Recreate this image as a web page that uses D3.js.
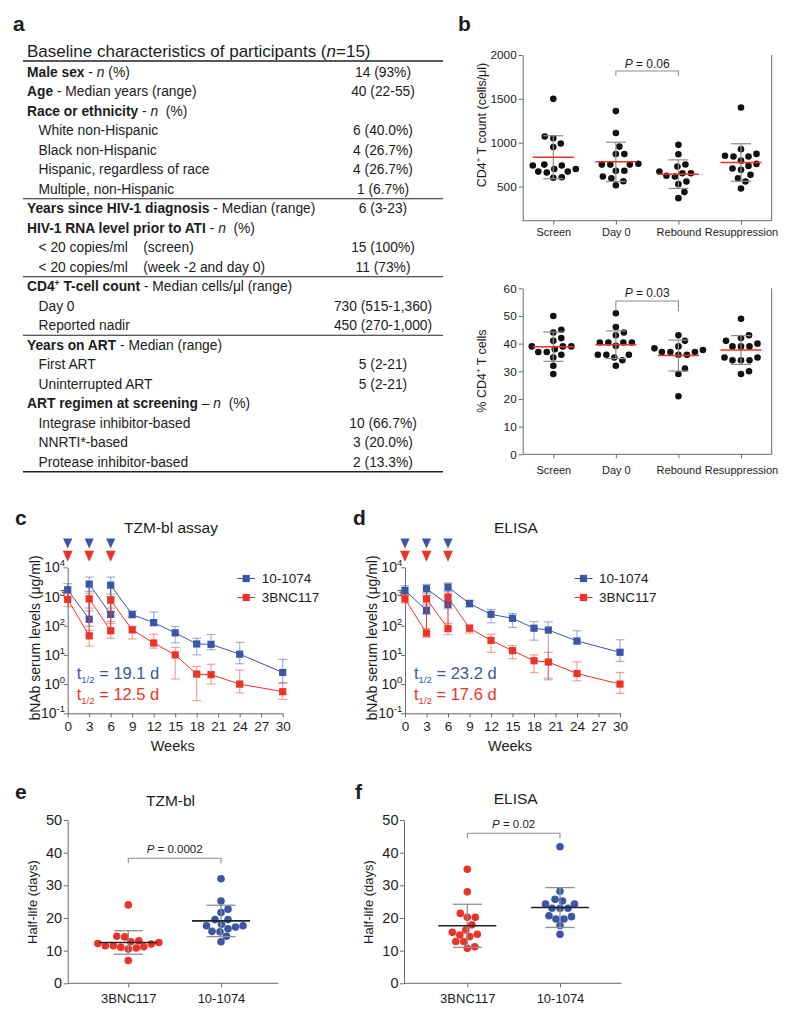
<!DOCTYPE html>
<html>
<head>
<meta charset="utf-8">
<script src="https://cdn.jsdelivr.net/npm/d3@7/dist/d3.min.js"></script>
<style>
html,body{margin:0;padding:0;background:#fff;}
svg text{font-family:"Liberation Sans",Arial,Helvetica,sans-serif;}
</style>
</head>
<body>
<svg id="fig" width="800" height="1016"></svg>
<script>
// ================= DATA =================
// --- panel a: table ---
const tableTitle = [["Baseline characteristics of participants ("],["n","i"],["=15)"]];
const tableRows = [
  {parts:[["Male sex","b"],[" - "],["n","i"],[" (%)"]], value:"14 (93%)"},
  {parts:[["Age","b"],[" - Median years (range)"]], value:"40 (22-55)"},
  {parts:[["Race or ethnicity","b"],[" - "],["n","i"],["  (%)"]], value:""},
  {indent:true, parts:[["White non-Hispanic"]], value:"6 (40.0%)"},
  {indent:true, parts:[["Black non-Hispanic"]], value:"4 (26.7%)"},
  {indent:true, parts:[["Hispanic, regardless of race"]], value:"4 (26.7%)"},
  {indent:true, parts:[["Multiple, non-Hispanic"]], value:"1 (6.7%)"},
  {parts:[["Years since HIV-1 diagnosis","b"],[" - Median (range)"]], value:"6 (3-23)"},
  {parts:[["HIV-1 RNA level prior to ATI","b"],[" - "],["n","i"],["  (%)"]], value:""},
  {indent:true, parts:[["< 20 copies/ml    (screen)"]], value:"15 (100%)"},
  {indent:true, parts:[["< 20 copies/ml    (week -2 and day 0)"]], value:"11 (73%)"},
  {parts:[["CD4","b"],["+","b^"],[" T-cell count","b"],[" - Median cells/μl (range)"]], value:""},
  {indent:true, parts:[["Day 0"]], value:"730 (515-1,360)"},
  {indent:true, parts:[["Reported nadir"]], value:"450 (270-1,000)"},
  {parts:[["Years on ART","b"],[" - Median (range)"]], value:""},
  {indent:true, parts:[["First ART"]], value:"5 (2-21)"},
  {indent:true, parts:[["Uninterrupted ART"]], value:"5 (2-21)"},
  {parts:[["ART regimen at screening","b"],[" – "],["n","i"],["  (%)"]], value:""},
  {indent:true, parts:[["Integrase inhibitor-based"]], value:"10 (66.7%)"},
  {indent:true, parts:[["NNRTI*-based"]], value:"3 (20.0%)"},
  {indent:true, parts:[["Protease inhibitor-based"]], value:"2 (13.3%)"}
];
const tableRuleAfter = [6, 10, 13, 20];

// --- panel b ---
const cd4Groups = ["Screen","Day 0","Rebound","Resuppression"];
const cd4Count = [
  [1500,1050,1070,990,950,740,740,750,700,700,670,670,660,600,605],
  [1360,1110,955,870,870,760,750,750,750,680,680,595,615,560,515],
  [975,868,728,751,652,652,671,614,622,557,527,436,367],
  [1400,925,872,842,842,850,758,705,735,795,633,690,595,557,477]
];
const cd4CountMean = [834,781,641,774];
const cd4CountSD   = [245,224,163,214];
const cd4CountTicks = [500,1000,1500,2000];
const cd4Pct = [
  [50,45,44,42,41,39,39,39,38,37,37,36,35,32,29],
  [51,46,44,43,40.4,40.4,40.4,40.4,39.2,36,36,36,35,34,32],
  [43,41,39,38.3,37.7,37,37,37,36,36,31,29,21],
  [49,43,42,41,40,39,39,39,35,35,34,34,34,30,29]
];
const cd4PctMean = [38.9,39.6,35.7,37.7];
const cd4PctSD   = [5.3,5.0,5.6,5.2];
const cd4PctTicks = [0,10,20,30,40,50,60];

// --- panels c, d ---
const pkWeeks = [0,3,3,6,6,9,12,15,18,20,24,30];
const infusionWeeks = [0,3,6];
const pkTicksY = [0.1,1,10,100,1000,10000];
const pkTicksX = [0,3,6,9,12,15,18,21,24,27,30];
const tzm1074   = [1700,166,2660,245,2450,240,128,57,23.7,23,10.6,2.5];
const tzm1074Hi = [2750,320,4600,400,4600,320,295,94,37,50,27,7];
const tzm1074Lo = [900,95,1500,140,1000,190,100,26,10,15,5,1.1];
const tzm117    = [800,45,830,67,750,72,25.6,10,2.2,2.1,1.0,0.55];
const tzm117Hi  = [1300,70,1300,120,1200,95,51,18,4,4.8,3,1.1];
const tzm117Lo  = [450,20,400,37,300,35,17,1.5,0.27,1,0.5,0.3];
const eli1074   = [1620,334,1850,536,2100,575,245,179,82,71,30,12.3];
const eli1074Hi = [2330,480,2600,700,2900,745,362,263,138,135,67,33];
const eli1074Lo = [1150,245,1300,380,1500,435,126,87,32,1.4,23,6];
const eli117    = [830,56,830,80,940,82,31.5,14,6.3,5.7,2.3,1.0];
const eli117Hi  = [1150,80,1100,120,1300,104,51,21,10,12.3,5.8,2.5];
const eli117Lo  = [600,40,550,49,500,56,12.3,7.4,2.5,1.6,1.3,0.48];
const seriesNames = ["10-1074","3BNC117"];

// --- panels e, f ---
const hlGroups = ["3BNC117","10-1074"];
const hlTicks = [0,10,20,30,40,50];
const tzmHalfLife = [
  [24,14.2,14.4,12.7,12.5,12.2,11.5,11,10.5,10.8,11.2,11.5,12,13,7],
  [32,25.2,22.7,21.7,19.5,18.1,17.6,19.5,17.6,17.2,16.7,15.8,15.9,14.4,12.7]
];
const tzmHalfLifeMean = [12.5,19.1];
const tzmHalfLifeSD   = [3.6,4.8];
const eliHalfLife = [
  [34.9,28,21.4,20.2,20.2,17.9,15.6,16.3,14.8,14.3,15,12.8,12.8,10.7,11.2],
  [41.8,28.2,25.7,24.3,23,23,23,24.3,25.2,20.7,19.7,19.7,20.4,17.7,15]
];
const eliHalfLifeMean = [17.6,23.2];
const eliHalfLifeSD   = [6.6,6.1];

// ================= DRAWING =================
const svg = d3.select("#fig");
const INK = "#1c1c1c", AXC = "#6a6a6a", GREY = "#8e8e8e";
const BLUE = "#3b56a6", RED = "#ec3327";

function rich(sel, parts){
  let back = 0;
  parts.forEach(p=>{
    const txt = p[0], st = p[1] || "";
    const s = sel.append("tspan").text(txt);
    if (st.includes("b")) s.attr("font-weight","bold");
    if (st.includes("i")) s.attr("font-style","italic");
    if (st.includes("^")) { s.attr("dy",-5).attr("font-size","0.62em"); back = 5; }
    else if (st.includes("_")) { s.attr("dy",4).attr("font-size","0.58em"); back = -4; }
    else if (back) { s.attr("dy", back); back = 0; }
  });
}
function styleAxis(g, fs){
  g.attr("font-size", fs).attr("font-family", null);
  g.selectAll("path,line").attr("stroke", AXC).attr("stroke-width",1);
  g.selectAll("text").attr("fill", INK);
}
function swarm(vals, y, minD){
  const idx = vals.map((v,i)=>i).sort((a,b)=>vals[a]-vals[b]);
  const placed = [], off = new Array(vals.length);
  idx.forEach(i=>{
    const py = y(vals[i]);
    let best = 0;
    for (let k=0;k<600;k++){
      const c = (k%2===1?1:-1)*Math.ceil(k/2)*0.5;
      if (placed.every(p=>Math.hypot(p.x-c,p.y-py) >= minD)) { best = c; break; }
    }
    placed.push({x:best,y:py}); off[i] = best;
  });
  return off;
}
function rotLabel(x, y, fs, parts){
  const t = svg.append("text").attr("transform",`translate(${x},${y}) rotate(-90)`)
    .attr("text-anchor","middle").attr("dy","0.35em").attr("font-size",fs).attr("fill",INK);
  rich(t, parts);
}
function panelLabel(t,x,y){
  svg.append("text").attr("x",x).attr("y",y).attr("font-size",21).attr("font-weight","bold").attr("fill",INK).text(t);
}
panelLabel("a",13,31); panelLabel("b",458,31);
panelLabel("c",15,525); panelLabel("d",353,525);
panelLabel("e",15,799); panelLabel("f",355,799);

// ---------- panel a ----------
(function(){
  const X0=23, X1=443, XL=27, XI=38.5, XV=383, Y0=76.7, DY=19.5, FS=13.8;
  const tt = svg.append("text").attr("x",XL).attr("y",57).attr("font-size",17).attr("fill",INK);
  rich(tt, tableTitle);
  svg.append("line").attr("x1",X0).attr("x2",X1).attr("y1",61).attr("y2",61).attr("stroke","#222").attr("stroke-width",1.4);
  tableRows.forEach((r,i)=>{
    const y = Y0 + i*DY;
    const t = svg.append("text").attr("x", r.indent?XI:XL).attr("y",y).attr("font-size",FS)
      .attr("fill",INK).style("white-space","pre");
    rich(t, r.parts);
    if (r.value) svg.append("text").attr("x",XV).attr("y",y).attr("text-anchor","middle")
      .attr("font-size",FS).attr("fill",INK).text(r.value);
  });
  tableRuleAfter.forEach((i,k)=>{
    const y = Y0 + i*DY + 5;
    svg.append("line").attr("x1",X0).attr("x2",X1).attr("y1",y).attr("y2",y)
      .attr("stroke","#222").attr("stroke-width", k===tableRuleAfter.length-1?1.4:1.1);
  });
})();

// ---------- panel b ----------
const xB = d3.scalePoint().domain(cd4Groups).range([553.3,741]);
function cd4Chart(vals, means, sds, y, ticks, yLab, labY, p){
  const [yB, yT] = y.range();
  const gy = svg.append("g").attr("transform","translate(522.7,0)")
    .call(d3.axisLeft(y).tickValues(ticks).tickFormat(d3.format("d")).tickSize(4).tickSizeOuter(0).tickPadding(2));
  styleAxis(gy, 11.8);
  svg.append("line").attr("x1",522.7).attr("x2",771.7).attr("y1",yB).attr("y2",yB).attr("stroke",AXC);
  svg.append("line").attr("x1",771.7).attr("x2",771.7).attr("y1",yT).attr("y2",yB).attr("stroke",AXC);
  const gx = svg.append("g").attr("transform",`translate(0,${yB})`)
    .call(d3.axisBottom(xB).tickSize(4).tickPadding(p.xpad));
  gx.select(".domain").remove();
  styleAxis(gx, 11);
  rotLabel(481.7, labY, 12.5, yLab);
  cd4Groups.forEach((g,i)=>{
    const cx = xB(g);
    const off = swarm(vals[i], y, 8.2);
    svg.append("g").selectAll("circle").data(vals[i]).join("circle")
      .attr("cx",(d,j)=>cx+off[j]).attr("cy",d=>y(d)).attr("r",3.3).attr("fill","#111");
    const hi = y(means[i]+sds[i]), lo = y(means[i]-sds[i]);
    svg.append("line").attr("x1",cx).attr("x2",cx).attr("y1",lo).attr("y2",hi).attr("stroke",GREY).attr("stroke-width",1.2);
    [hi,lo].forEach(yy=>svg.append("line").attr("x1",cx-10).attr("x2",cx+10).attr("y1",yy).attr("y2",yy).attr("stroke",GREY).attr("stroke-width",1.2));
    svg.append("line").attr("x1",cx-20.5).attr("x2",cx+20.5).attr("y1",y(means[i])).attr("y2",y(means[i]))
      .attr("stroke",RED).attr("stroke-width",1.5);
  });
  const a = xB(cd4Groups[1]), b = xB(cd4Groups[2]);
  svg.append("path").attr("d",`M${a},${p.by+p.bt}V${p.by}H${b}V${p.by+p.bt}`)
    .attr("fill","none").attr("stroke",GREY).attr("stroke-width",1.1);
  const t = svg.append("text").attr("x",(a+b)/2).attr("y",p.ty).attr("text-anchor","middle").attr("font-size",12).attr("fill",INK);
  rich(t, [["P","i"],[" = "+p.text]]);
}
cd4Chart(cd4Count, cd4CountMean, cd4CountSD,
  d3.scaleLinear().domain([110,2000]).range([220.7,55]), cd4CountTicks,
  [["CD4"],["+","^"],[" T count (cells/μl)"]], 125,
  {xpad:4, by:71, bt:5, ty:68, text:"0.06"});
cd4Chart(cd4Pct, cd4PctMean, cd4PctSD,
  d3.scaleLinear().domain([0,60]).range([454.3,288.3]), cd4PctTicks,
  [["% CD4"],["+","^"],[" T  cells"]], 371,
  {xpad:8, by:301, bt:10, ty:297, text:"0.03"});

// ---------- panels c, d ----------
function pkChart(o){
  const x = d3.scaleLinear().domain([0,30]).range([o.x0, o.x0+215]);
  const y = d3.scaleLog().domain([0.1,10000]).range([713.3,567.3]);
  const gy = svg.append("g").attr("transform",`translate(${o.x0},0)`)
    .call(d3.axisLeft(y).tickValues(pkTicksY).tickFormat(()=>"").tickSize(4).tickSizeOuter(0));
  styleAxis(gy, 14);
  pkTicksY.forEach(v=>{
    const t = svg.append("text").attr("x",o.x0-2.7).attr("y",y(v)+5).attr("text-anchor","end")
      .attr("font-size",14).attr("fill",INK);
    t.append("tspan").text("10");
    t.append("tspan").attr("dy",-6).attr("font-size",9.5).text(Math.round(Math.log10(v)));
  });
  const gx = svg.append("g").attr("transform","translate(0,713.3)")
    .call(d3.axisBottom(x).tickValues(pkTicksX).tickSize(4).tickSizeOuter(0).tickPadding(4.5));
  styleAxis(gx, 13.5);
  svg.append("text").attr("x",o.x0+105).attr("y",750.5).attr("text-anchor","middle").attr("font-size",14.5).attr("fill",INK).text("Weeks");
  rotLabel(o.x0-33, 638, 14, [["bNAb serum levels (μg/ml)"]]);
  svg.append("text").attr("x",o.titleX).attr("y",533).attr("text-anchor","middle").attr("font-size",15.5).attr("fill",INK).text(o.title);
  infusionWeeks.forEach(w=>{
    const cx = x(w);
    svg.append("path").attr("d",`M${cx-4.6},538.5L${cx+4.6},538.5L${cx},548.5Z`).attr("fill",BLUE);
    svg.append("path").attr("d",`M${cx-4.9},550.7L${cx+4.9},550.7L${cx},561.7Z`).attr("fill",RED);
  });
  o.series.forEach(s=>{
    const g = svg.append("g");
    pkWeeks.forEach((w,i)=>{
      const cx = x(w), yh = y(s.hi[i]), yl = y(s.lo[i]);
      g.append("line").attr("x1",cx).attr("x2",cx).attr("y1",yl).attr("y2",yh);
      g.append("line").attr("x1",cx-4.5).attr("x2",cx+4.5).attr("y1",yh).attr("y2",yh);
      g.append("line").attr("x1",cx-4.5).attr("x2",cx+4.5).attr("y1",yl).attr("y2",yl);
    });
    g.selectAll("line").attr("stroke",s.color).attr("stroke-opacity",0.45).attr("stroke-width",1.2);
    svg.append("path").datum(s.v)
      .attr("d", d3.line().x((d,i)=>x(pkWeeks[i])).y(d=>y(d)))
      .attr("fill","none").attr("stroke",s.color).attr("stroke-width",1);
    svg.append("g").selectAll("rect").data(s.v).join("rect")
      .attr("x",(d,i)=>x(pkWeeks[i])-3.6).attr("y",d=>y(d)-3.6).attr("width",7.2).attr("height",7.2).attr("fill",s.color);
  });
  o.series.forEach((s,k)=>{
    const ly = 578.5 + k*19;
    const lx = o.x0 + 178.5;
    svg.append("line").attr("x1",lx-9).attr("x2",lx+9).attr("y1",ly).attr("y2",ly).attr("stroke",s.color);
    svg.append("rect").attr("x",lx-3.6).attr("y",ly-3.6).attr("width",7.2).attr("height",7.2).attr("fill",s.color);
    svg.append("text").attr("x",lx+15.5).attr("y",ly+4.8).attr("font-size",13.5).attr("fill",INK).text(s.name);
  });
  o.series.forEach((s,k)=>{
    const t = svg.append("text").attr("x",o.x0+9).attr("y",678.5+k*21.5).attr("font-size",16.5).attr("fill",s.color);
    rich(t, [["t"],["1/2","_"],[" = "+s.half]]);
  });
}
pkChart({x0:67.7, titleX:171, title:"TZM-bl assay", series:[
  {name:seriesNames[0], color:BLUE, v:tzm1074, hi:tzm1074Hi, lo:tzm1074Lo, half:"19.1 d"},
  {name:seriesNames[1], color:RED,  v:tzm117,  hi:tzm117Hi,  lo:tzm117Lo,  half:"12.5 d"}]});
pkChart({x0:405, titleX:516, title:"ELISA", series:[
  {name:seriesNames[0], color:BLUE, v:eli1074, hi:eli1074Hi, lo:eli1074Lo, half:"23.2 d"},
  {name:seriesNames[1], color:RED,  v:eli117,  hi:eli117Hi,  lo:eli117Lo,  half:"17.6 d"}]});

// ---------- panels e, f ----------
function hlChart(o){
  const y = d3.scaleLinear().domain([0,50]).range([983.3,820]);
  const x = d3.scalePoint().domain(hlGroups).range(o.xr);
  const gy = svg.append("g").attr("transform",`translate(${o.x0},0)`)
    .call(d3.axisLeft(y).tickValues(hlTicks).tickSize(4).tickSizeOuter(0).tickPadding(1.5));
  styleAxis(gy, 14.5);
  svg.append("line").attr("x1",o.x0).attr("x2",o.x1).attr("y1",983.3).attr("y2",983.3).attr("stroke",AXC);
  const gx = svg.append("g").attr("transform","translate(0,983.3)")
    .call(d3.axisBottom(x).tickSize(4).tickPadding(6));
  gx.select(".domain").remove();
  styleAxis(gx, 13);
  rotLabel(o.x0-35.5, 902, 13, [["Half-life (days)"]]);
  svg.append("text").attr("x",o.titleX).attr("y",o.titleY).attr("text-anchor","middle").attr("font-size",15.5).attr("fill",INK).text(o.title);
  const colors = [RED, BLUE];
  hlGroups.forEach((g,i)=>{
    const cx = x(g);
    const off = swarm(o.vals[i], y, 7.6);
    svg.append("g").selectAll("circle").data(o.vals[i]).join("circle")
      .attr("cx",(d,j)=>cx+off[j]).attr("cy",d=>y(d)).attr("r",3.8).attr("fill",colors[i]);
    const hi = y(o.means[i]+o.sds[i]), lo = y(o.means[i]-o.sds[i]);
    svg.append("line").attr("x1",cx).attr("x2",cx).attr("y1",lo).attr("y2",hi).attr("stroke",GREY).attr("stroke-width",1.3);
    [hi,lo].forEach(yy=>svg.append("line").attr("x1",cx-14.5).attr("x2",cx+14.5).attr("y1",yy).attr("y2",yy).attr("stroke",GREY).attr("stroke-width",1.3));
    svg.append("line").attr("x1",cx-29).attr("x2",cx+29).attr("y1",y(o.means[i])).attr("y2",y(o.means[i]))
      .attr("stroke","#222").attr("stroke-width",1.6);
  });
  const a = x(hlGroups[0]), b = x(hlGroups[1]);
  svg.append("path").attr("d",`M${a},${o.by+5}V${o.by}H${b}V${o.by+5}`)
    .attr("fill","none").attr("stroke",GREY).attr("stroke-width",1.1);
  const t = svg.append("text").attr("x",(a+b)/2).attr("y",o.ty).attr("text-anchor","middle").attr("font-size",11.5).attr("fill",INK);
  rich(t, [["P","i"],[" = "+o.p]]);
}
hlChart({x0:67.7, x1:278.3, xr:[128.3,221], title:"TZM-bl", titleX:170.5, titleY:806,
  vals:tzmHalfLife, means:tzmHalfLifeMean, sds:tzmHalfLifeSD, by:858.3, ty:852.5, p:"0.0002"});
hlChart({x0:404, x1:621.7, xr:[467.3,560], title:"ELISA", titleX:515.7, titleY:804,
  vals:eliHalfLife, means:eliHalfLifeMean, sds:eliHalfLifeSD, by:833.3, ty:827.5, p:"0.02"});
</script>
</body>
</html>
